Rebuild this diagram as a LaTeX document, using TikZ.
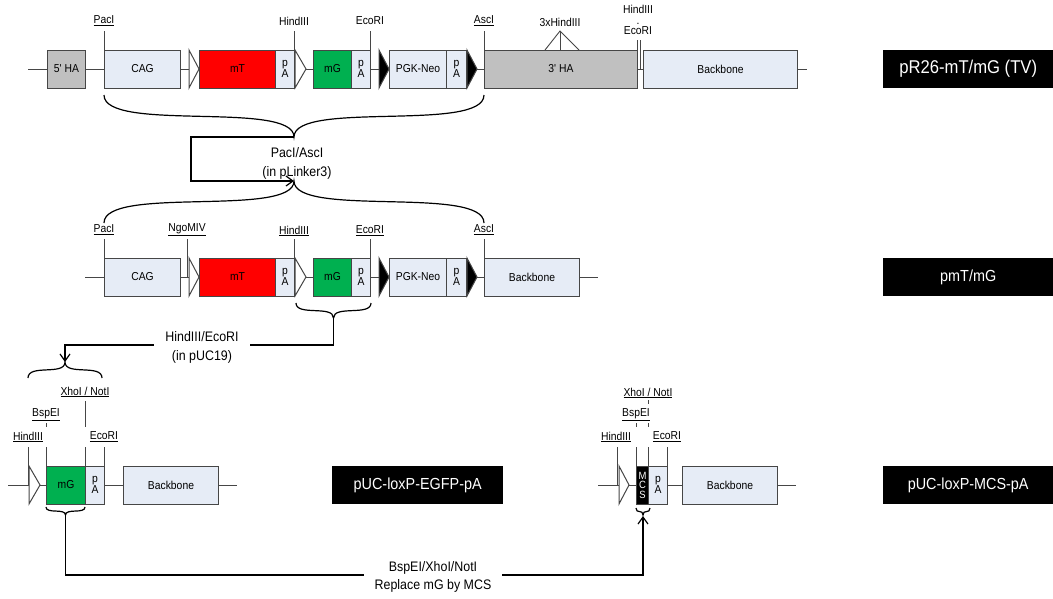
\documentclass[tikz,border=0pt]{standalone}
\usepackage{fontspec}
\setmainfont{Liberation Sans}[FakeStretch=0.9]
\usetikzlibrary{arrows.meta}
\definecolor{lblue}{RGB}{230,236,246}
\definecolor{hagray}{RGB}{192,192,192}
\definecolor{mgreen}{RGB}{0,176,80}
\definecolor{bd}{RGB}{70,70,70}
\newcommand\bx[6]{\node[seg,#5,minimum width=#3-#2] (#1) at (#2,#4) {#6};}
\newcommand\mybrace[4]{%
  \pgfmathsetmacro\bxm{(#1+#2)/2}%
  \pgfmathsetmacro\bha{#3+0.9*(#4-#3)}%
  \pgfmathsetmacro\bhb{#3+0.12*(#4-#3)}%
  \draw[conn] (#1,#3) .. controls (#1,\bha) and (\bxm,\bhb) .. (\bxm,#4)
    .. controls (\bxm,\bhb) and (#2,\bha) .. (#2,#3);}
\tikzset{
  seg/.style={draw=bd, line width=1pt, minimum height=38pt, inner sep=0pt, anchor=west,
    align=center, font=\fontsize{11.5}{11}\selectfont},
  tag/.style={fill=black, text=white, minimum height=38pt, minimum width=170pt,
    inner sep=0pt, anchor=west},
  site/.style={inner sep=0pt, font=\fontsize{11.5}{13}\selectfont},
  tick/.style={draw=bd, line width=0.9pt},
  bline/.style={draw=bd, line width=1pt},
  conn/.style={draw=black, line width=1.2pt},
  arr/.style={conn, -{Straight Barb[length=7pt,width=10pt]}},
  ctext/.style={fill=white, inner xsep=11pt, inner ysep=1pt, align=center,
    font=\fontsize{13.8}{18.5}\selectfont},
  loxp/.style={draw=bd, line width=1pt, fill=white},
  frt/.style={draw=bd, line width=1pt, fill=black}
}
\begin{document}
\begin{tikzpicture}[x=1pt,y=-1pt]
\useasboundingbox (0,0) rectangle (1053,598);
% ---------------- Row 1 ----------------
\draw[bline] (28,69) -- (807,69);
\bx{hafive}{47}{85}{69}{fill=hagray}{5\textquotesingle{} HA}
\bx{cagA}{104}{180}{69}{fill=lblue}{CAG}
\draw[loxp] (189,50) -- (199,69) -- (189,88) -- cycle;
\bx{mtA}{199}{275}{69}{fill=red}{mT}
\bx{paA}{275}{294}{69}{fill=lblue}{p\\A}
\draw[loxp] (295,50) -- (306,69) -- (295,88) -- cycle;
\bx{mgA}{313}{351}{69}{fill=mgreen}{mG}
\bx{pbA}{351}{370}{69}{fill=lblue}{p\\A}
\draw[frt] (379,50) -- (389,69) -- (379,88) -- cycle;
\bx{neoA}{389}{446}{69}{fill=lblue}{PGK-Neo}
\bx{pcA}{446}{466}{69}{fill=lblue}{p\\A}
\draw[frt] (467,50) -- (477,69) -- (467,88) -- cycle;
\bx{hathree}{484}{637}{69}{fill=hagray}{3\textquotesingle{} HA}
\bx{bbA}{643}{797}{69}{fill=lblue}{Backbone}
\node[tag, font=\fontsize{18.5}{20}\selectfont] (tagA) at (883,69) {pR26-mT/mG (TV)};
\foreach \xx in {104,294,370,484} \draw[tick] (\xx,31) -- (\xx,50);
\draw[tick] (545,50) -- (560,31) -- (579,50);
\draw[tick] (560,31) -- (560,50);
\draw[tick] (637,40) -- (637,69);
\draw[tick] (640,40) -- (640,69);
\node[site] (sAa) at (104,21) {\underline{PacI}};
\node[site] (sAb) at (294,21) {HindIII};
\node[site] (sAc) at (370,21) {EcoRI};
\node[site] (sAd) at (484,21) {\underline{AscI}};
\node[site] (sAe) at (560,22) {3xHindIII};
\node[site, align=center, font=\fontsize{11.5}{10.5}\selectfont] (sAf) at (638,20) {HindIII\\.\\EcoRI};
% brace & connector PacI/AscI
\mybrace{104}{484}{95}{137}
\mybrace{104}{484}{223}{181}
\coordinate (bA) at (294,137);
\coordinate (bB) at (294,181);
\draw[arr] (bA) -- ++(-103,0) |- (bB);
\node[align=center, inner sep=0pt, font=\fontsize{13.8}{19}\selectfont] (tlink) at (297,163) {PacI/AscI\\(in pLinker3)};
% ---------------- Row 2 ----------------
\draw[bline] (85,277) -- (598,277);
\bx{cagB}{104}{180}{277}{fill=lblue}{CAG}
\draw[loxp] (189,258) -- (199,277) -- (189,296) -- cycle;
\bx{mtB}{199}{275}{277}{fill=red}{mT}
\bx{paB}{275}{294}{277}{fill=lblue}{p\\A}
\draw[loxp] (295,258) -- (306,277) -- (295,296) -- cycle;
\bx{mgB}{313}{351}{277}{fill=mgreen}{mG}
\bx{pbB}{351}{370}{277}{fill=lblue}{p\\A}
\draw[frt] (379,258) -- (389,277) -- (379,296) -- cycle;
\bx{neoB}{389}{446}{277}{fill=lblue}{PGK-Neo}
\bx{pcB}{446}{466}{277}{fill=lblue}{p\\A}
\draw[frt] (467,258) -- (477,277) -- (467,296) -- cycle;
\bx{bbB}{484}{579}{277}{fill=lblue}{Backbone}
\node[tag, font=\fontsize{16}{18}\selectfont] (tagB) at (883,277) {pmT/mG};
\foreach \xx in {104,294,370,484} \draw[tick] (\xx,239) -- (\xx,258);
\draw[tick] (187,239) -- (187,277);
\node[site] (sBa) at (104,230) {\underline{PacI}};
\node[site] (sBb) at (187,230) {\underline{NgoMIV}};
\node[site] (sBc) at (294,231) {\underline{HindIII}};
\node[site] (sBd) at (370,231) {\underline{EcoRI}};
\node[site] (sBe) at (484,230) {\underline{AscI}};
% brace & connector HindIII/EcoRI
\mybrace{296}{371}{303}{318}
\mybrace{28}{102}{378}{362}
\coordinate (bC) at (333.5,318);
\coordinate (bD) at (65,362);
\draw[arr] (bC) -- ++(0,27) -| (bD);
\node[ctext] (tpuc) at (202,347.5) {HindIII/EcoRI\\(in pUC19)};
% ---------------- Row 3 left ----------------
\draw[bline] (8,485) -- (237,485);
\draw[loxp] (29,466) -- (40,485) -- (29,504) -- cycle;
\bx{mgC}{46}{85}{485}{fill=mgreen}{mG}
\bx{paC}{85}{104}{485}{fill=lblue}{p\\A}
\bx{bbC}{123}{218}{485}{fill=lblue}{Backbone}
\node[tag, minimum width=171pt, font=\fontsize{16}{18}\selectfont] (tagC) at (332,485) {pUC-loxP-EGFP-pA};
\draw[tick] (28,447) -- (28,485);
\foreach \xx in {46,85,104} \draw[tick] (\xx,447) -- (\xx,466);
\draw[tick] (46,423) -- (46,427);
\draw[tick] (85,401) -- (85,427);
\node[site] (sCa) at (28,437) {\underline{HindIII}};
\node[site] (sCb) at (104,437) {\underline{EcoRI}};
\node[site] (sCc) at (46,415) {\underline{BspEI}};
\node[site] (sCd) at (85,392) {\underline{XhoI / NotI}};
% ---------------- Row 3 right ----------------
\draw[bline] (598,485) -- (796,485);
\draw[loxp] (619,466) -- (629,485) -- (619,504) -- cycle;
\bx{mcsD}{636}{648}{485}{fill=black, text=white, font=\fontsize{10.5}{9.5}\selectfont}{M\\C\\S}
\bx{paD}{648}{667}{485}{fill=lblue}{p\\A}
\bx{bbD}{682}{777}{485}{fill=lblue}{Backbone}
\node[tag, font=\fontsize{16}{18}\selectfont] (tagD) at (883,485) {pUC-loxP-MCS-pA};
\draw[tick] (617,447) -- (617,485);
\foreach \xx in {636,648,667} \draw[tick] (\xx,447) -- (\xx,466);
\draw[tick] (636,423) -- (636,427);
\draw[tick] (648,423) -- (648,427);
\draw[tick] (648,400) -- (648,404);
\node[site] (sDa) at (616,437) {\underline{HindIII}};
\node[site] (sDb) at (667,437) {\underline{EcoRI}};
\node[site] (sDc) at (636,415) {\underline{BspEI}};
\node[site] (sDd) at (648,393) {\underline{XhoI / NotI}};
% brace & connector BspEI/XhoI/NotI
\mybrace{46}{85}{507}{515}
\mybrace{636}{650}{508}{515}
\coordinate (bE) at (65.5,515);
\coordinate (bF) at (643,516);
\draw[arr] (bE) -- ++(0,60) -| (bF);
\node[ctext] (trep) at (433,577) {BspEI/XhoI/NotI\\Replace mG by MCS};
\end{tikzpicture}
\end{document}
